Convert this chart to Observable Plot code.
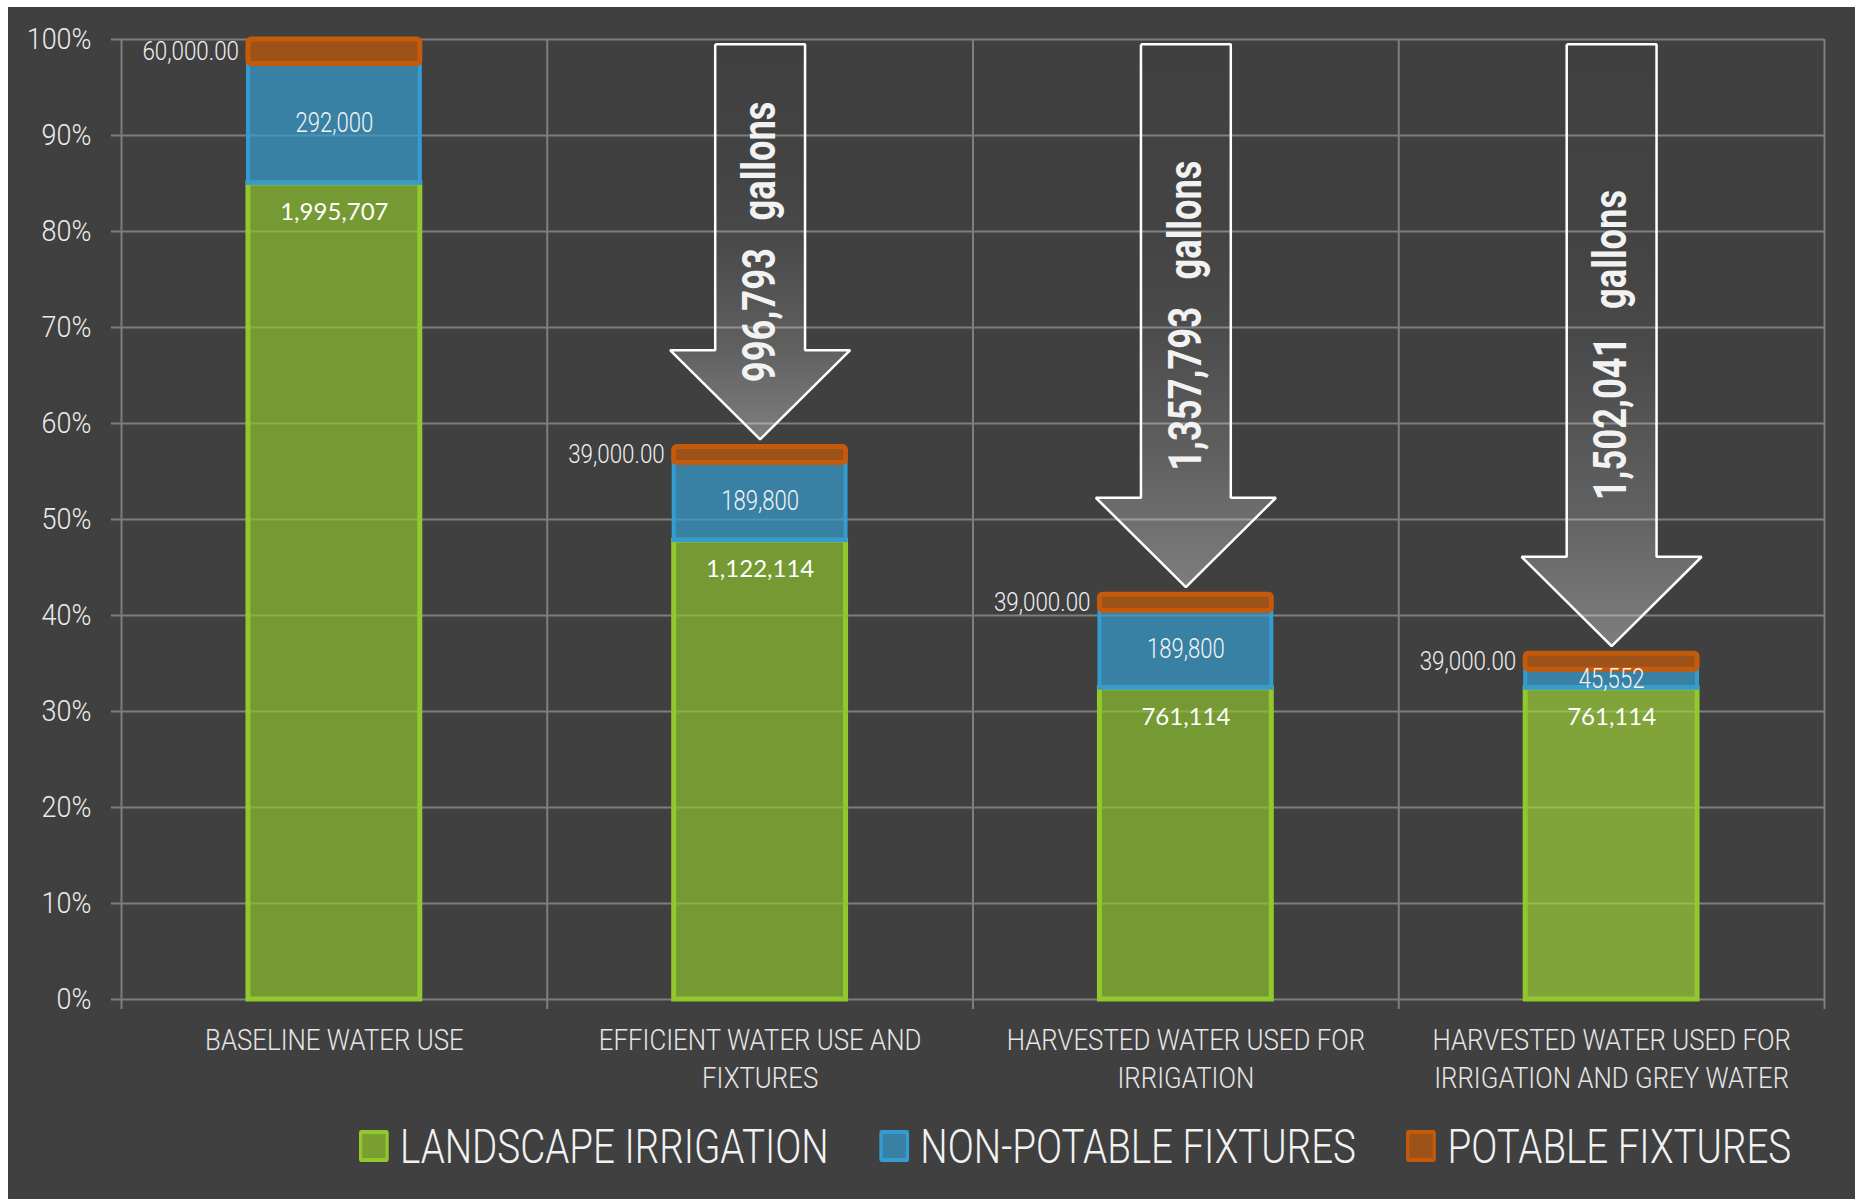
<!DOCTYPE html>
<html>
<head>
<meta charset="utf-8">
<script src="https://cdn.jsdelivr.net/npm/d3@7"></script>
<script src="https://cdn.jsdelivr.net/npm/@observablehq/plot@0.6"></script>
<style>
html, body { margin: 0; padding: 0; background: #ffffff; }
#card { position: absolute; left: 8px; top: 7px; width: 1847px; height: 1192px; background: #404040; overflow: hidden; }
#chart { position: absolute; left: 0; top: 0; }
#legend { position: absolute; left: 351px; top: 1109px; height: 60px; display: flex; align-items: center;
  transform: scaleX(0.803); transform-origin: left center; white-space: nowrap;
  font-family: Roboto, "DejaVu Sans Condensed", sans-serif; font-weight: 300;
  font-size: 48px; color: #f2f2f2; }
#legend .item { display: flex; align-items: center; margin-right: 63px; }
#legend .sw { width: 37px; height: 32px; box-sizing: border-box; border: 4px solid; border-radius: 3px; margin-right: 14px; }
</style>
</head>
<body>
<div id="card"><div id="chart"></div><div id="legend"></div></div>
<script>
// ---------------- data ----------------
const scenarios = [
  "BASELINE WATER USE",
  "EFFICIENT WATER USE AND FIXTURES",
  "HARVESTED WATER USED FOR IRRIGATION",
  "HARVESTED WATER USED FOR IRRIGATION AND GREY WATER"
];
const tickLabels = [
  "BASELINE WATER USE",
  "EFFICIENT WATER USE AND\nFIXTURES",
  "HARVESTED WATER USED FOR\nIRRIGATION",
  "HARVESTED WATER USED FOR\nIRRIGATION AND GREY WATER"
];
const series = ["LANDSCAPE IRRIGATION", "NON-POTABLE FIXTURES", "POTABLE FIXTURES"];
const landscape = [1995707, 1122114, 761114, 761114];
const nonPotable = [292000, 189800, 189800, 45552];
const potable = [60000, 39000, 39000, 39000];
const savings = [996793, 1357793, 1502041]; // for scenarios 2..4
const yTicks = [0, 0.1, 0.2, 0.3, 0.4, 0.5, 0.6, 0.7, 0.8, 0.9, 1];

// ---------------- styles ----------------
const seriesColors = ["#92c82c", "#349cd0", "#c55a0a"];
const lastGreenFill = "#a1d735";
const FONT = 'Roboto, "DejaVu Sans Condensed", sans-serif';
const GRID = "#7f7f7f";
const BAR_HALF = 0.2077;          // half bar width, in category units
const ARROW_SHAFT = 0.1055, ARROW_HEAD = 0.2115;
const ARROW_TOP = 0.995, ARROW_GAP = 0.008, ARROW_HEAD_H = 0.093;

// ---------------- derived table ----------------
const seriesValues = [landscape, nonPotable, potable];
const baseTotal = landscape[0] + nonPotable[0] + potable[0];
const rows = [];
series.forEach((s, k) => scenarios.forEach((sc, i) => {
  const below = seriesValues.slice(0, k).reduce((a, arr) => a + arr[i], 0);
  const v = seriesValues[k][i];
  rows.push({series: s, k, i, value: v,
    x1: i + 0.5 - BAR_HALF, x2: i + 0.5 + BAR_HALF,
    y1: below / baseTotal, y2: (below + v) / baseTotal});
}));
const totals = scenarios.map((_, i) => landscape[i] + nonPotable[i] + potable[i]);

const arrowPts = [];
const arrowLabels = [];
savings.forEach((s, j) => {
  const i = j + 1, c = i + 0.5;
  const tip = totals[i] / baseTotal + ARROW_GAP;
  const hb = tip + ARROW_HEAD_H;
  const pts = [
    [c - ARROW_SHAFT, ARROW_TOP], [c + ARROW_SHAFT, ARROW_TOP], [c + ARROW_SHAFT, hb],
    [c + ARROW_HEAD, hb], [c, tip], [c - ARROW_HEAD, hb], [c - ARROW_SHAFT, hb], [c - ARROW_SHAFT, ARROW_TOP]
  ];
  pts.forEach(([x, y]) => arrowPts.push({id: i, x, y}));
  arrowLabels.push({x: c, y: (ARROW_TOP + tip) / 2, text: d3.format(",")(s) + "\u2002 gallons"});
});

const fmtInt = d3.format(",");
const fmtDec = d3.format(",.2f");

const chart = Plot.plot({
  width: 1847,
  height: 1100,
  marginLeft: 113,
  marginRight: 31,
  marginTop: 32,
  marginBottom: 108,
  x: {domain: [0, 4]},
  y: {domain: [0, 1]},
  color: {type: "identity"},
  style: {background: "transparent", color: "#eeeeee", fontFamily: FONT, overflow: "visible"},
  marks: [
    Plot.gridY(yTicks, {stroke: GRID, strokeOpacity: 1, strokeWidth: 2}),
    Plot.gridX([0, 1, 2, 3, 4], {stroke: GRID, strokeOpacity: 1, strokeWidth: 2}),
    Plot.axisY(yTicks, {tickFormat: d3.format(".0%"), tickSize: 10, tickPadding: 20, stroke: GRID, strokeWidth: 2,
      fill: "#ececec", fontSize: 29, fontWeight: 300, label: null, ariaDescription: "ytext"}),
    Plot.axisX([0, 1, 2, 3, 4], {tickSize: 10, stroke: GRID, strokeWidth: 2, fill: "none", label: null}),
    Plot.axisX([0.5, 1.5, 2.5, 3.5], {tickSize: 0, tickPadding: 23, tickFormat: d => tickLabels[Math.floor(d)],
      fontSize: 29, fontWeight: 300, lineHeight: 1.33, fill: "#e6e6e6", label: null, ariaDescription: "xtext"}),
    // bars
    ...[0, 1, 2].map(k => Plot.rect(rows.filter(r => r.k === k), {
      x1: "x1", x2: "x2", y1: "y1", y2: "y2",
      fill: r => (k === 0 && r.i === 3) ? lastGreenFill : seriesColors[k],
      fillOpacity: k === 0 ? 0.66 : 0.7,
      stroke: seriesColors[k],
      strokeWidth: k === 1 ? 4 : 5,
      insetLeft: 2.5, insetRight: 2.5,
      rx: k === 2 ? 3 : 0
    })),
    // value labels
    Plot.text(rows.filter(r => r.k === 0), {x: r => r.i + 0.5, y: "y2", dy: 29, text: r => fmtInt(r.value),
      fill: "#ffffff", fontSize: 24, fontFamily: "Lato, 'Open Sans', sans-serif", lineAnchor: "middle"}),
    Plot.text(rows.filter(r => r.k === 1), {x: r => r.i + 0.5, y: r => (r.y1 + r.y2) / 2, text: r => fmtInt(r.value),
      fill: "#f4f4f4", fontSize: 27, fontWeight: 300, lineAnchor: "middle", ariaDescription: "blue"}),
    Plot.text(rows.filter(r => r.k === 2), {x: "x1", y: r => (r.y1 + r.y2) / 2, text: r => fmtDec(r.value),
      fill: "#f0f0f0", fontSize: 26, fontWeight: 300, textAnchor: "end", dx: -7, lineAnchor: "middle", ariaDescription: "orange"}),
    // savings arrows
    Plot.line(arrowPts, {x: "x", y: "y", z: "id", curve: "linear", fill: "url(#arrowGrad)", stroke: "#ffffff",
      strokeWidth: 2.5, strokeLinejoin: "miter", strokeLinecap: "butt"}),
    Plot.text(arrowLabels, {x: "x", y: "y", text: "text", rotate: -90, fontSize: 46, fontWeight: "bold",
      fill: "#f2f2f2", lineAnchor: "middle", ariaDescription: "arrowtext"})
  ]
});

const svg = chart.tagName.toLowerCase() === "svg" ? chart : chart.querySelector("svg");
const ns = "http://www.w3.org/2000/svg";
const defs = document.createElementNS(ns, "defs");
defs.innerHTML = '<linearGradient id="arrowGrad" x1="0" y1="0" x2="0" y2="1">' +
  '<stop offset="0" stop-color="#ffffff" stop-opacity="0"/>' +
  '<stop offset="0.35" stop-color="#ffffff" stop-opacity="0.02"/>' +
  '<stop offset="0.5" stop-color="#ffffff" stop-opacity="0.05"/>' +
  '<stop offset="0.77" stop-color="#ffffff" stop-opacity="0.17"/>' +
  '<stop offset="0.9" stop-color="#ffffff" stop-opacity="0.26"/>' +
  '<stop offset="1" stop-color="#ffffff" stop-opacity="0.32"/>' +
  '</linearGradient>';
svg.insertBefore(defs, svg.firstChild);
document.getElementById("chart").appendChild(chart);

// condense text horizontally (the original uses a condensed face)
function squeeze(selector, f) {
  svg.querySelectorAll(selector).forEach(t => {
    const spans = t.querySelectorAll("tspan");
    const leaves = spans.length ? Array.from(spans) : [t];
    leaves.forEach(el => {
      const L = el.getComputedTextLength();
      if (L > 0) {
        el.setAttribute("textLength", (L * f).toFixed(1));
        el.setAttribute("lengthAdjust", "spacingAndGlyphs");
      }
    });
  });
}
squeeze('[aria-description="ytext"] text', 0.93);
squeeze('[aria-description="xtext"] text', 0.89);
squeeze('[aria-description="blue"] text', 0.82);
squeeze('[aria-description="orange"] text', 0.86);
squeeze('[aria-description="arrowtext"] text', 0.79);

// legend
const legend = document.getElementById("legend");
series.forEach((s, k) => {
  const item = document.createElement("div");
  item.className = "item";
  const sw = document.createElement("div");
  sw.className = "sw";
  sw.style.borderColor = seriesColors[k];
  const c = d3.color(seriesColors[k]); c.opacity = 0.7;
  sw.style.background = c.formatRgb();
  const t = document.createElement("span");
  t.textContent = s;
  item.appendChild(sw); item.appendChild(t);
  legend.appendChild(item);
});
</script>
</body>
</html>
